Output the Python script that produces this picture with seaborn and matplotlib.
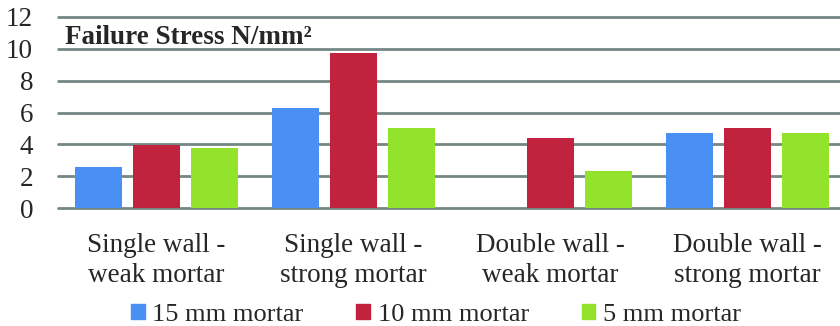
import matplotlib
matplotlib.use("Agg")
import matplotlib.pyplot as plt
import seaborn as sns
import pandas as pd

# Failure stress (N/mm²) per wall configuration and mortar joint thickness
categories = [
    "Single wall -\nweak mortar",
    "Single wall -\nstrong mortar",
    "Double wall -\nweak mortar",
    "Double wall -\nstrong mortar",
]
series = ["15 mm mortar", "10 mm mortar", "5 mm mortar"]
stress_15mm = [2.6, 6.3, 0.0, 4.7]
stress_10mm = [3.95, 9.75, 4.4, 5.0]
stress_5mm = [3.8, 5.0, 2.3, 4.7]
y_ticks = [0, 2, 4, 6, 8, 10, 12]

colors = ["#4A90F2", "#C1233F", "#93E22C"]
grid_color = "#758785"

rows = []
for name, vals in zip(series, [stress_15mm, stress_10mm, stress_5mm]):
    for cat, v in zip(categories, vals):
        rows.append({"category": cat, "series": name, "stress": v})
df = pd.DataFrame(rows)

sns.set_style("white")
plt.rcParams["font.family"] = ["Liberation Serif", "DejaVu Serif"]

W, H = 840, 326
fig = plt.figure(figsize=(W / 100, H / 100), dpi=100)
left, right = 58, 846
top, bottom = 17, 208
ax = fig.add_axes([left / W, 1 - bottom / H, (right - left) / W, (bottom - top) / H])

sns.barplot(
    data=df, x="category", y="stress", hue="series",
    order=categories, hue_order=series, palette=colors,
    width=0.88, gap=0.19, saturation=1, linewidth=0, ax=ax, legend=False,
)

ax.set_ylim(0, 12)
ax.set_yticks(y_ticks)
ax.set_yticklabels([str(t) for t in y_ticks])
ax.set_xlabel("")
ax.set_ylabel("")
ax.set_axisbelow(True)
ax.yaxis.grid(True, color=grid_color, linewidth=2.0)
for gl in ax.get_ygridlines():
    gl.set_clip_on(False)
ax.xaxis.grid(False)
for s in ax.spines.values():
    s.set_visible(False)

ax.tick_params(axis="y", length=0, pad=18, labelsize=19.5)
ax.tick_params(axis="x", length=0, pad=18, labelsize=19.5)
for lbl in ax.get_xticklabels():
    lbl.set_linespacing(1.25)

ax.text(7 / (right - left), 0.96, "Failure Stress N/mm²", transform=ax.transAxes,
        fontsize=19.5, fontweight="bold", ha="left", va="top")

handles = [plt.Rectangle((0, 0), 1, 1, color=c) for c in colors]
fig.legend(handles, series, loc="lower center", bbox_to_anchor=(436 / W, -0.015),
           ncol=3, frameon=False, fontsize=19, handlelength=0.5, handleheight=0.5,
           handletextpad=0.3, columnspacing=2.0, borderaxespad=0.0, borderpad=0.2)

fig.savefig("out.png", dpi=100)
